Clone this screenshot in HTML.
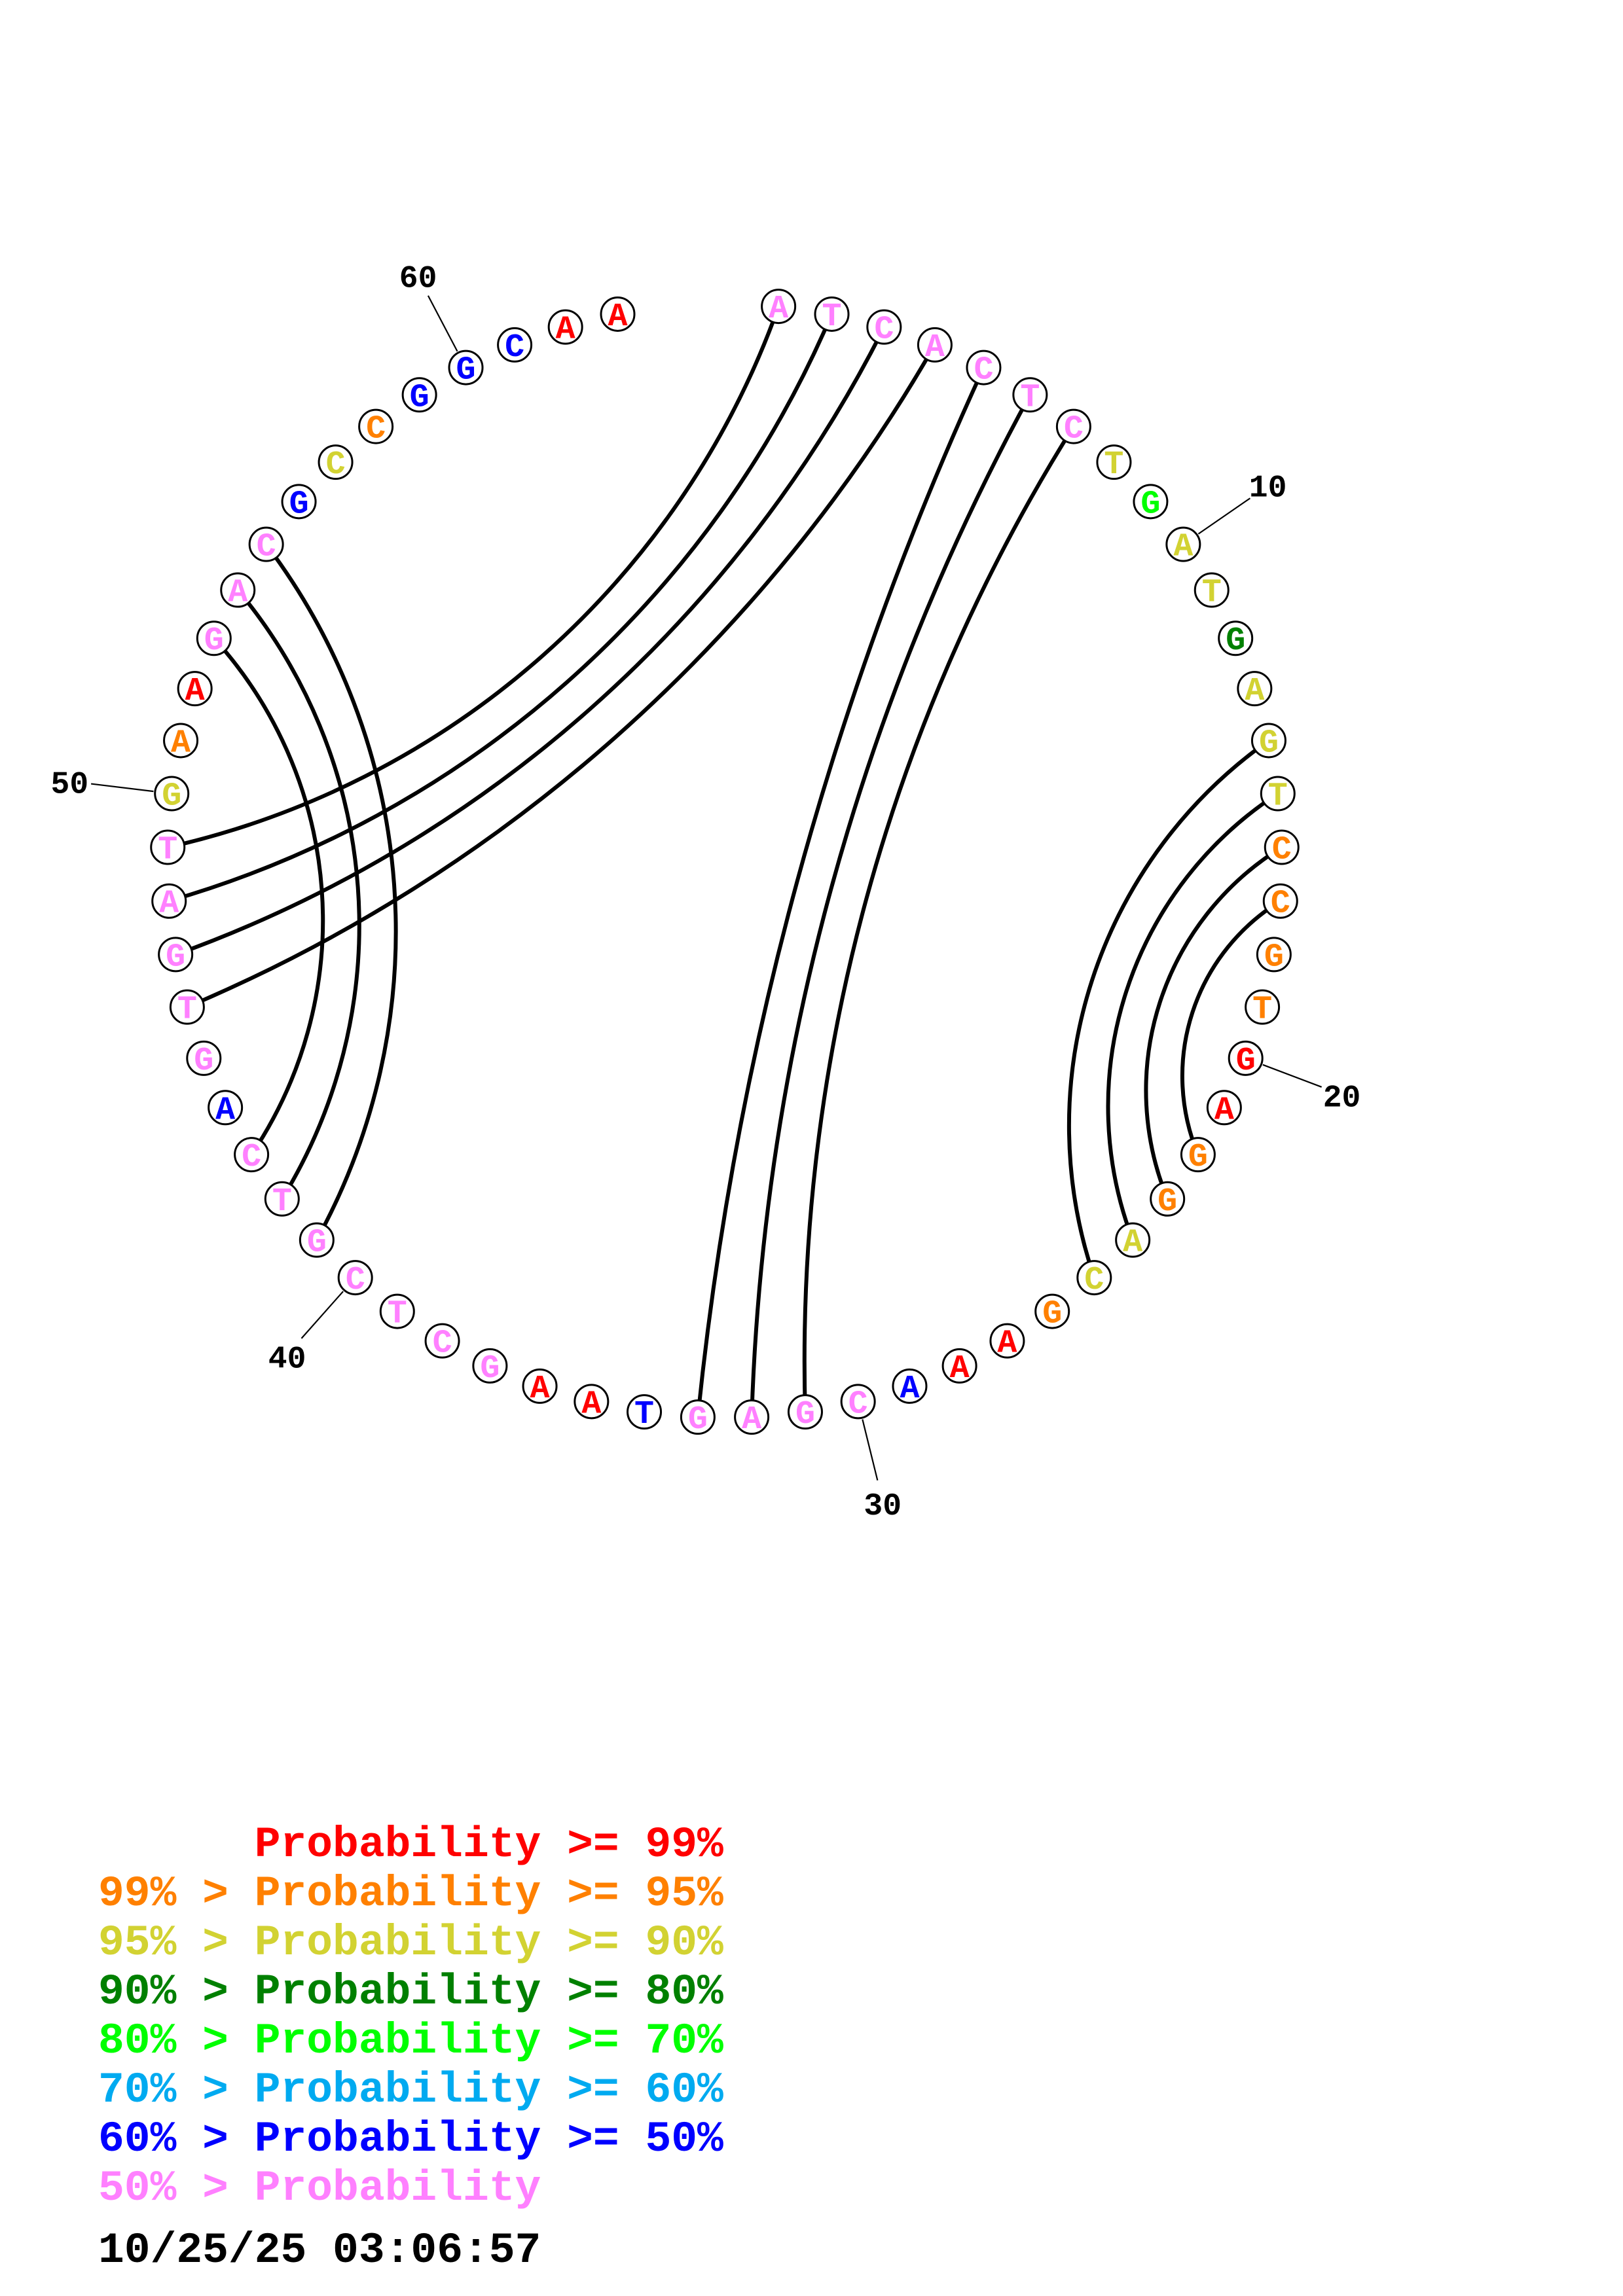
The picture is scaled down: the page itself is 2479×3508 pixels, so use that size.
<!DOCTYPE html>
<html>
<head>
<meta charset="utf-8">
<style>
html,body{margin:0;padding:0;background:#fff;}
svg{display:block;}
.arc{fill:none;stroke:#000;stroke-width:6;}
.nc{fill:#fff;stroke:#000;stroke-width:3;}
.nt{font-family:"Liberation Mono","DejaVu Sans Mono",monospace;font-weight:bold;font-size:50px;text-anchor:middle;}
.lab{font-family:"Liberation Mono","DejaVu Sans Mono",monospace;font-weight:bold;font-size:48px;text-anchor:middle;fill:#000;}
.tick{stroke:#000;stroke-width:2.2;}
.leg{font-family:"Liberation Mono","DejaVu Sans Mono",monospace;font-weight:bold;font-size:66.3px;}
.p{fill:#FF80FF}.y{fill:#D2D232}.o{fill:#FF8000}.r{fill:#FF0000}.b{fill:#0000FF}.dg{fill:#008000}.g{fill:#00FF00}.lb{fill:#00AAF0}.k{fill:#000}
</style>
</head>
<body>
<svg width="2479" height="3508" viewBox="0 0 2479 3508" xmlns="http://www.w3.org/2000/svg">
<rect x="0" y="0" width="2479" height="3508" fill="#fff"/>

<!-- pair arcs -->
<g transform="translate(1107 1315.1) rotate(108)">
<path class="arc" d="M -431.42 -733.54 A 720.1 720.1 0 0 0 431.42 -733.54"/>
<path class="arc" d="M -358.60 -771.75 A 570.7 570.7 0 0 0 358.60 -771.75"/>
<path class="arc" d="M -282.45 -802.76 A 436.3 436.3 0 0 0 282.45 -802.76"/>
<path class="arc" d="M -203.66 -826.27 A 313.2 313.2 0 0 0 203.66 -826.27"/>
</g>
<g transform="translate(1107 1315.1) rotate(265.846)">
<path class="arc" d="M -395.48 -753.53 A 641.4 641.4 0 0 0 395.48 -753.53"/>
<path class="arc" d="M -466.39 -711.80 A 800.1 800.1 0 0 0 466.39 -711.80"/>
<path class="arc" d="M -532.78 -663.58 A 981.0 981.0 0 0 0 532.78 -663.58"/>
</g>
<g transform="translate(1107 1315.1) rotate(318.462)">
<path class="arc" d="M -623.24 -579.46 A 1290.6 1290.6 0 0 0 623.24 -579.46"/>
<path class="arc" d="M -676.10 -516.80 A 1572.2 1572.2 0 0 0 676.10 -516.80"/>
<path class="arc" d="M -723.02 -448.81 A 1952.4 1952.4 0 0 0 723.02 -448.81"/>
<path class="arc" d="M -762.84 -377.21 A 2386.4 2386.4 0 0 0 762.84 -377.21"/>
</g>
<g transform="translate(1107 1315.1) rotate(105.231)">
<path class="arc" d="M -780.24 -339.82 A 2686.0 2686.0 0 0 0 780.24 -339.82"/>
<path class="arc" d="M -809.35 -262.97 A 3496.2 3496.2 0 0 0 809.35 -262.97"/>
<path class="arc" d="M -830.95 -183.65 A 5063.3 5063.3 0 0 0 830.95 -183.65"/>
</g>

<!-- ticks -->
<g transform="translate(1107 1315.1) rotate(55.385)"><line class="tick" x1="0" y1="-879" x2="0" y2="-975"/></g>
<g transform="translate(1107 1315.1) rotate(110.769)"><line class="tick" x1="0" y1="-879" x2="0" y2="-975"/></g>
<g transform="translate(1107 1315.1) rotate(166.154)"><line class="tick" x1="0" y1="-879" x2="0" y2="-975"/></g>
<g transform="translate(1107 1315.1) rotate(221.538)"><line class="tick" x1="0" y1="-879" x2="0" y2="-975"/></g>
<g transform="translate(1107 1315.1) rotate(276.923)"><line class="tick" x1="0" y1="-879" x2="0" y2="-975"/></g>
<g transform="translate(1107 1315.1) rotate(332.308)"><line class="tick" x1="0" y1="-879" x2="0" y2="-975"/></g>

<!-- labels -->
<g transform="translate(1107 1315.1) rotate(55.385) translate(0 -1008) rotate(-55.385)"><text class="lab" y="16">10</text></g>
<g transform="translate(1107 1315.1) rotate(110.769) translate(0 -1008) rotate(-110.769)"><text class="lab" y="18">20</text></g>
<g transform="translate(1107 1315.1) rotate(166.154) translate(0 -1008) rotate(-166.154)"><text class="lab" y="20">30</text></g>
<g transform="translate(1107 1315.1) rotate(221.538) translate(0 -1008) rotate(-221.538)"><text class="lab" y="20">40</text></g>
<g transform="translate(1107 1315.1) rotate(276.923) translate(0 -1008) rotate(-276.923)"><text class="lab" y="18">50</text></g>
<g transform="translate(1107 1315.1) rotate(332.308) translate(0 -1008) rotate(-332.308)"><text class="lab" y="16">60</text></g>

<!-- nucleotides -->
<g transform="translate(1107 1315.1) rotate(5.538) translate(0 -851) rotate(-5.538)"><circle class="nc" r="25.5"/><text class="nt p" y="17">A</text></g>
<g transform="translate(1107 1315.1) rotate(11.077) translate(0 -851) rotate(-11.077)"><circle class="nc" r="25.5"/><text class="nt p" y="17">T</text></g>
<g transform="translate(1107 1315.1) rotate(16.615) translate(0 -851) rotate(-16.615)"><circle class="nc" r="25.5"/><text class="nt p" y="17">C</text></g>
<g transform="translate(1107 1315.1) rotate(22.154) translate(0 -851) rotate(-22.154)"><circle class="nc" r="25.5"/><text class="nt p" y="17">A</text></g>
<g transform="translate(1107 1315.1) rotate(27.692) translate(0 -851) rotate(-27.692)"><circle class="nc" r="25.5"/><text class="nt p" y="17">C</text></g>
<g transform="translate(1107 1315.1) rotate(33.231) translate(0 -851) rotate(-33.231)"><circle class="nc" r="25.5"/><text class="nt p" y="17">T</text></g>
<g transform="translate(1107 1315.1) rotate(38.769) translate(0 -851) rotate(-38.769)"><circle class="nc" r="25.5"/><text class="nt p" y="17">C</text></g>
<g transform="translate(1107 1315.1) rotate(44.308) translate(0 -851) rotate(-44.308)"><circle class="nc" r="25.5"/><text class="nt y" y="17">T</text></g>
<g transform="translate(1107 1315.1) rotate(49.846) translate(0 -851) rotate(-49.846)"><circle class="nc" r="25.5"/><text class="nt g" y="17">G</text></g>
<g transform="translate(1107 1315.1) rotate(55.385) translate(0 -851) rotate(-55.385)"><circle class="nc" r="25.5"/><text class="nt y" y="17">A</text></g>
<g transform="translate(1107 1315.1) rotate(60.923) translate(0 -851) rotate(-60.923)"><circle class="nc" r="25.5"/><text class="nt y" y="17">T</text></g>
<g transform="translate(1107 1315.1) rotate(66.462) translate(0 -851) rotate(-66.462)"><circle class="nc" r="25.5"/><text class="nt dg" y="17">G</text></g>
<g transform="translate(1107 1315.1) rotate(72) translate(0 -851) rotate(-72)"><circle class="nc" r="25.5"/><text class="nt y" y="17">A</text></g>
<g transform="translate(1107 1315.1) rotate(77.538) translate(0 -851) rotate(-77.538)"><circle class="nc" r="25.5"/><text class="nt y" y="17">G</text></g>
<g transform="translate(1107 1315.1) rotate(83.077) translate(0 -851) rotate(-83.077)"><circle class="nc" r="25.5"/><text class="nt y" y="17">T</text></g>
<g transform="translate(1107 1315.1) rotate(88.615) translate(0 -851) rotate(-88.615)"><circle class="nc" r="25.5"/><text class="nt o" y="17">C</text></g>
<g transform="translate(1107 1315.1) rotate(94.154) translate(0 -851) rotate(-94.154)"><circle class="nc" r="25.5"/><text class="nt o" y="17">C</text></g>
<g transform="translate(1107 1315.1) rotate(99.692) translate(0 -851) rotate(-99.692)"><circle class="nc" r="25.5"/><text class="nt o" y="17">G</text></g>
<g transform="translate(1107 1315.1) rotate(105.231) translate(0 -851) rotate(-105.231)"><circle class="nc" r="25.5"/><text class="nt o" y="17">T</text></g>
<g transform="translate(1107 1315.1) rotate(110.769) translate(0 -851) rotate(-110.769)"><circle class="nc" r="25.5"/><text class="nt r" y="17">G</text></g>
<g transform="translate(1107 1315.1) rotate(116.308) translate(0 -851) rotate(-116.308)"><circle class="nc" r="25.5"/><text class="nt r" y="17">A</text></g>
<g transform="translate(1107 1315.1) rotate(121.846) translate(0 -851) rotate(-121.846)"><circle class="nc" r="25.5"/><text class="nt o" y="17">G</text></g>
<g transform="translate(1107 1315.1) rotate(127.385) translate(0 -851) rotate(-127.385)"><circle class="nc" r="25.5"/><text class="nt o" y="17">G</text></g>
<g transform="translate(1107 1315.1) rotate(132.923) translate(0 -851) rotate(-132.923)"><circle class="nc" r="25.5"/><text class="nt y" y="17">A</text></g>
<g transform="translate(1107 1315.1) rotate(138.462) translate(0 -851) rotate(-138.462)"><circle class="nc" r="25.5"/><text class="nt y" y="17">C</text></g>
<g transform="translate(1107 1315.1) rotate(144) translate(0 -851) rotate(-144)"><circle class="nc" r="25.5"/><text class="nt o" y="17">G</text></g>
<g transform="translate(1107 1315.1) rotate(149.538) translate(0 -851) rotate(-149.538)"><circle class="nc" r="25.5"/><text class="nt r" y="17">A</text></g>
<g transform="translate(1107 1315.1) rotate(155.077) translate(0 -851) rotate(-155.077)"><circle class="nc" r="25.5"/><text class="nt r" y="17">A</text></g>
<g transform="translate(1107 1315.1) rotate(160.615) translate(0 -851) rotate(-160.615)"><circle class="nc" r="25.5"/><text class="nt b" y="17">A</text></g>
<g transform="translate(1107 1315.1) rotate(166.154) translate(0 -851) rotate(-166.154)"><circle class="nc" r="25.5"/><text class="nt p" y="17">C</text></g>
<g transform="translate(1107 1315.1) rotate(171.692) translate(0 -851) rotate(-171.692)"><circle class="nc" r="25.5"/><text class="nt p" y="17">G</text></g>
<g transform="translate(1107 1315.1) rotate(177.231) translate(0 -851) rotate(-177.231)"><circle class="nc" r="25.5"/><text class="nt p" y="17">A</text></g>
<g transform="translate(1107 1315.1) rotate(182.769) translate(0 -851) rotate(-182.769)"><circle class="nc" r="25.5"/><text class="nt p" y="17">G</text></g>
<g transform="translate(1107 1315.1) rotate(188.308) translate(0 -851) rotate(-188.308)"><circle class="nc" r="25.5"/><text class="nt b" y="17">T</text></g>
<g transform="translate(1107 1315.1) rotate(193.846) translate(0 -851) rotate(-193.846)"><circle class="nc" r="25.5"/><text class="nt r" y="17">A</text></g>
<g transform="translate(1107 1315.1) rotate(199.385) translate(0 -851) rotate(-199.385)"><circle class="nc" r="25.5"/><text class="nt r" y="17">A</text></g>
<g transform="translate(1107 1315.1) rotate(204.923) translate(0 -851) rotate(-204.923)"><circle class="nc" r="25.5"/><text class="nt p" y="17">G</text></g>
<g transform="translate(1107 1315.1) rotate(210.462) translate(0 -851) rotate(-210.462)"><circle class="nc" r="25.5"/><text class="nt p" y="17">C</text></g>
<g transform="translate(1107 1315.1) rotate(216) translate(0 -851) rotate(-216)"><circle class="nc" r="25.5"/><text class="nt p" y="17">T</text></g>
<g transform="translate(1107 1315.1) rotate(221.538) translate(0 -851) rotate(-221.538)"><circle class="nc" r="25.5"/><text class="nt p" y="17">C</text></g>
<g transform="translate(1107 1315.1) rotate(227.077) translate(0 -851) rotate(-227.077)"><circle class="nc" r="25.5"/><text class="nt p" y="17">G</text></g>
<g transform="translate(1107 1315.1) rotate(232.615) translate(0 -851) rotate(-232.615)"><circle class="nc" r="25.5"/><text class="nt p" y="17">T</text></g>
<g transform="translate(1107 1315.1) rotate(238.154) translate(0 -851) rotate(-238.154)"><circle class="nc" r="25.5"/><text class="nt p" y="17">C</text></g>
<g transform="translate(1107 1315.1) rotate(243.692) translate(0 -851) rotate(-243.692)"><circle class="nc" r="25.5"/><text class="nt b" y="17">A</text></g>
<g transform="translate(1107 1315.1) rotate(249.231) translate(0 -851) rotate(-249.231)"><circle class="nc" r="25.5"/><text class="nt p" y="17">G</text></g>
<g transform="translate(1107 1315.1) rotate(254.769) translate(0 -851) rotate(-254.769)"><circle class="nc" r="25.5"/><text class="nt p" y="17">T</text></g>
<g transform="translate(1107 1315.1) rotate(260.308) translate(0 -851) rotate(-260.308)"><circle class="nc" r="25.5"/><text class="nt p" y="17">G</text></g>
<g transform="translate(1107 1315.1) rotate(265.846) translate(0 -851) rotate(-265.846)"><circle class="nc" r="25.5"/><text class="nt p" y="17">A</text></g>
<g transform="translate(1107 1315.1) rotate(271.385) translate(0 -851) rotate(-271.385)"><circle class="nc" r="25.5"/><text class="nt p" y="17">T</text></g>
<g transform="translate(1107 1315.1) rotate(276.923) translate(0 -851) rotate(-276.923)"><circle class="nc" r="25.5"/><text class="nt y" y="17">G</text></g>
<g transform="translate(1107 1315.1) rotate(282.462) translate(0 -851) rotate(-282.462)"><circle class="nc" r="25.5"/><text class="nt o" y="17">A</text></g>
<g transform="translate(1107 1315.1) rotate(288) translate(0 -851) rotate(-288)"><circle class="nc" r="25.5"/><text class="nt r" y="17">A</text></g>
<g transform="translate(1107 1315.1) rotate(293.538) translate(0 -851) rotate(-293.538)"><circle class="nc" r="25.5"/><text class="nt p" y="17">G</text></g>
<g transform="translate(1107 1315.1) rotate(299.077) translate(0 -851) rotate(-299.077)"><circle class="nc" r="25.5"/><text class="nt p" y="17">A</text></g>
<g transform="translate(1107 1315.1) rotate(304.615) translate(0 -851) rotate(-304.615)"><circle class="nc" r="25.5"/><text class="nt p" y="17">C</text></g>
<g transform="translate(1107 1315.1) rotate(310.154) translate(0 -851) rotate(-310.154)"><circle class="nc" r="25.5"/><text class="nt b" y="17">G</text></g>
<g transform="translate(1107 1315.1) rotate(315.692) translate(0 -851) rotate(-315.692)"><circle class="nc" r="25.5"/><text class="nt y" y="17">C</text></g>
<g transform="translate(1107 1315.1) rotate(321.231) translate(0 -851) rotate(-321.231)"><circle class="nc" r="25.5"/><text class="nt o" y="17">C</text></g>
<g transform="translate(1107 1315.1) rotate(326.769) translate(0 -851) rotate(-326.769)"><circle class="nc" r="25.5"/><text class="nt b" y="17">G</text></g>
<g transform="translate(1107 1315.1) rotate(332.308) translate(0 -851) rotate(-332.308)"><circle class="nc" r="25.5"/><text class="nt b" y="17">G</text></g>
<g transform="translate(1107 1315.1) rotate(337.846) translate(0 -851) rotate(-337.846)"><circle class="nc" r="25.5"/><text class="nt b" y="17">C</text></g>
<g transform="translate(1107 1315.1) rotate(343.385) translate(0 -851) rotate(-343.385)"><circle class="nc" r="25.5"/><text class="nt r" y="17">A</text></g>
<g transform="translate(1107 1315.1) rotate(348.923) translate(0 -851) rotate(-348.923)"><circle class="nc" r="25.5"/><text class="nt r" y="17">A</text></g>

<!-- legend -->
<text class="leg r" x="388.7" y="2836">Probability &gt;= 99%</text>
<text class="leg o" x="150" y="2911">99% &gt; Probability &gt;= 95%</text>
<text class="leg y" x="150" y="2986">95% &gt; Probability &gt;= 90%</text>
<text class="leg dg" x="150" y="3061">90% &gt; Probability &gt;= 80%</text>
<text class="leg g" x="150" y="3136">80% &gt; Probability &gt;= 70%</text>
<text class="leg lb" x="150" y="3211">70% &gt; Probability &gt;= 60%</text>
<text class="leg b" x="150" y="3286">60% &gt; Probability &gt;= 50%</text>
<text class="leg p" x="150" y="3361">50% &gt; Probability</text>
<text class="leg k" x="150" y="3456">10/25/25 03:06:57</text>
</svg>
</body>
</html>
